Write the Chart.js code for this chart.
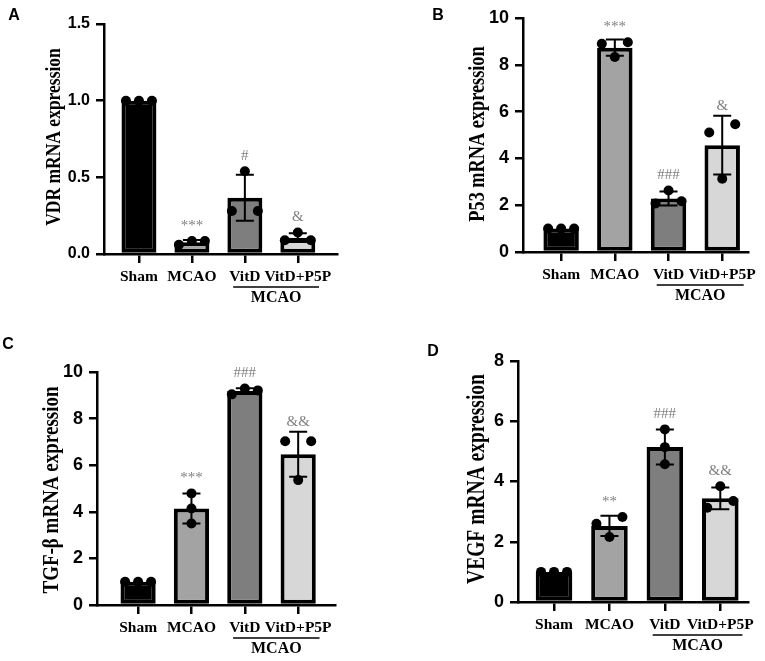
<!DOCTYPE html>
<html>
<head>
<meta charset="utf-8">
<script src="https://cdn.jsdelivr.net/npm/chart.js@4.4.1/dist/chart.umd.min.js"></script>
<style>
body { margin: 0; background: #fff; }
#wrap { position: relative; width: 765px; height: 661px; }
canvas { position: absolute; left: 0; top: 0; }
</style>
</head>
<body>
<div id="wrap">
  <canvas id="panelA" width="765" height="661"></canvas>
  <canvas id="panelB" width="765" height="661"></canvas>
  <canvas id="panelC" width="765" height="661"></canvas>
  <canvas id="panelD" width="765" height="661"></canvas>
</div>
<script>
// groups + bar fills
const groups = ['Sham', 'MCAO', 'VitD', 'VitD+P5P']
const barColors = ['#000000', '#a3a3a3', '#7e7e7e', '#d7d7d7']

// replicates (3 animals per group)
const vdrSham = [1.0, 1.0, 1.0]
const vdrMcao = [0.06, 0.085, 0.085]
const vdrVitd = [0.28, 0.54, 0.28]
const vdrP5p = [0.09, 0.14, 0.09]
const vdrMarks = ['', '***', '#', '&']

const p53Sham = [1.0, 1.0, 1.0]
const p53Mcao = [8.9, 8.96, 8.33]
const p53Vitd = [2.07, 2.63, 2.17]
const p53P5p = [5.11, 5.46, 3.13]
const p53Marks = ['', '***', '###', '&']

const tgfSham = [1.0, 1.0, 1.0]
const tgfMcao = [4.79, 4.14, 3.5]
const tgfVitd = [9.04, 9.29, 9.21]
const tgfP5p = [7.03, 5.36, 7.03]
const tgfMarks = ['', '***', '###', '&&']

const vegfSham = [1.0, 1.0, 1.0]
const vegfMcao = [2.6, 2.82, 2.16]
const vegfVitd = [5.73, 5.14, 4.57]
const vegfP5p = [3.84, 3.13, 3.35]
const vegfMarks = ['', '**', '###', '&&']

Chart.defaults.font.family = '"Liberation Sans", Arial, sans-serif'

const mean = (a) => a.reduce((s, v) => s + v, 0) / a.length
const sd = (a) => {
    const m = mean(a)
    return Math.sqrt(a.reduce((s, v) => s + (v - m) * (v - m), 0) / (a.length - 1))
}

// error bars, dots, significance marks, MCAO bracket, titles
const extras = {
    id: 'extras',
    afterDatasetsDraw(chart) {
        const o = chart.options.plugins.extras
        const ctx = chart.ctx
        const xs = chart.scales.x
        const ys = chart.scales.y
        const slot = xs.getPixelForValue(1) - xs.getPixelForValue(0)
        ctx.save()
        o.values.forEach((vals, i) => {
            const cx = xs.getPixelForValue(i)
            const m = mean(vals)
            const s = sd(vals)
            let top = ys.getPixelForValue(m)
            if (s > 0) {
                const yHi = ys.getPixelForValue(m + s)
                const yLo = ys.getPixelForValue(m - s)
                ctx.strokeStyle = '#000'
                ctx.lineWidth = 2
                ctx.beginPath()
                ctx.moveTo(cx, yHi); ctx.lineTo(cx, yLo)
                ctx.moveTo(cx - 9, yHi); ctx.lineTo(cx + 9, yHi)
                ctx.moveTo(cx - 9, yLo); ctx.lineTo(cx + 9, yLo)
                ctx.stroke()
                top = Math.min(top, yHi)
            }
            // simple row spreading for dots that sit close together
            const pts = vals.map((v, k) => ({ k: k, py: ys.getPixelForValue(v) }))
            const sorted = pts.slice().sort((a, b) => a.py - b.py)
            const rows = []
            sorted.forEach((pt) => {
                const last = rows[rows.length - 1]
                if (last && pt.py - last[last.length - 1].py < 12) last.push(pt)
                else rows.push([pt])
            })
            ctx.fillStyle = '#000'
            rows.forEach((row) => {
                row.sort((a, b) => a.k - b.k)
                const gap = row.length === 2 ? 26 : 13
                row.forEach((pt, j) => {
                    const dx = (j - (row.length - 1) / 2) * gap
                    ctx.beginPath()
                    ctx.arc(cx + dx, pt.py, 5, 0, Math.PI * 2)
                    ctx.fill()
                    top = Math.min(top, pt.py - 5)
                })
            })
            if (o.marks[i]) {
                ctx.fillStyle = '#808080'
                ctx.font = '15px "Liberation Serif", serif'
                ctx.textAlign = 'center'
                ctx.textBaseline = 'middle'
                ctx.fillText(o.marks[i], cx, top - 10)
            }
        })
        // MCAO bracket under the two treated groups
        const base = chart.chartArea.bottom
        const x1 = xs.getPixelForValue(2) - 0.22 * slot
        const x2 = xs.getPixelForValue(3) + 0.4 * slot
        ctx.strokeStyle = '#000'
        ctx.lineWidth = 1.5
        ctx.beginPath()
        ctx.moveTo(x1, base + 33)
        ctx.lineTo(x2, base + 33)
        ctx.stroke()
        ctx.fillStyle = '#000'
        ctx.font = 'bold 16px "Liberation Serif", serif'
        ctx.textAlign = 'center'
        ctx.textBaseline = 'middle'
        ctx.fillText('MCAO', (x1 + x2) / 2, base + 44)
        // y title, glyphs a bit wider than the font like in the figure
        ctx.save()
        ctx.translate(o.titleX, o.titleY)
        ctx.scale(1.25, 1)
        ctx.rotate(-Math.PI / 2)
        ctx.font = 'bold ' + o.titleSize + 'px "Liberation Serif", serif'
        ctx.fillText(o.title, 0, 0)
        ctx.restore()
        // panel letter
        ctx.font = 'bold 16px "Liberation Sans", Arial, sans-serif'
        ctx.fillText(o.letter, o.letterX, o.letterY)
        ctx.restore()
    }
}

const makePanel = (id, cfg) => {
    const canvas = document.querySelector('canvas#' + id)
    return new Chart(canvas, {
        type: 'bar',
        data: {
            datasets: [{
                data: cfg.values.map((v, i) => ({ x: i, y: mean(v) })),
                backgroundColor: barColors,
                borderColor: '#000',
                borderWidth: 4,
                borderSkipped: false,
                categoryPercentage: 1,
                barPercentage: 0.66
            }]
        },
        options: {
            responsive: false,
            animation: false,
            events: [],
            layout: { padding: cfg.padding },
            plugins: {
                legend: { display: false },
                tooltip: { enabled: false },
                extras: {
                    values: cfg.values,
                    marks: cfg.marks,
                    title: cfg.title,
                    titleSize: cfg.titleSize,
                    titleX: cfg.titleX,
                    titleY: cfg.titleY,
                    letter: cfg.letter,
                    letterX: cfg.letterX,
                    letterY: cfg.letterY
                }
            },
            scales: {
                x: {
                    type: 'linear',
                    offset: false,
                    min: cfg.xMin,
                    max: cfg.xMax,
                    afterBuildTicks: (scale) => {
                        scale.ticks = groups.map((g, i) => ({ value: i }))
                    },
                    afterFit: (scale) => { scale.height = 50 },
                    border: { display: true, color: '#000', width: 2.5 },
                    grid: { display: true, offset: false, drawOnChartArea: false, drawTicks: true, tickLength: 9, color: '#000', lineWidth: 2.5 },
                    ticks: {
                        autoSkip: false,
                        maxRotation: 0,
                        minRotation: 0,
                        padding: 5,
                        color: '#000',
                        font: { family: '"Liberation Serif", serif', size: 15.5, weight: 'bold' },
                        callback: (v) => groups[v]
                    }
                },
                y: {
                    min: 0,
                    max: cfg.yMax,
                    afterFit: (scale) => { scale.width = 60 },
                    border: { display: true, color: '#000', width: 2.5 },
                    grid: { display: true, drawOnChartArea: false, drawTicks: true, tickLength: 8, color: '#000', lineWidth: 2.5 },
                    ticks: {
                        stepSize: cfg.yStep,
                        padding: 6,
                        color: '#000',
                        font: { size: cfg.tickSize, weight: 'bold' },
                        callback: (v) => cfg.yStep < 1 ? v.toFixed(1) : v
                    }
                }
            }
        },
        plugins: [extras]
    })
}

makePanel('panelA', {
    values: [vdrSham, vdrMcao, vdrVitd, vdrP5p],
    marks: vdrMarks,
    title: 'VDR mRNA expression',
    titleSize: 17.5, titleX: 54, titleY: 137,
    letter: 'A', letterX: 14, letterY: 16,
    yMax: 1.5, yStep: 0.5, tickSize: 16,
    xMin: -0.66, xMax: 3.74,
    padding: { left: 44, right: 428, top: 24, bottom: 357 }
})

makePanel('panelB', {
    values: [p53Sham, p53Mcao, p53Vitd, p53P5p],
    marks: p53Marks,
    title: 'P53 mRNA expression',
    titleSize: 18.3, titleX: 478, titleY: 134,
    letter: 'B', letterX: 438, letterY: 16,
    yMax: 10, yStep: 2, tickSize: 18,
    xMin: -0.71, xMax: 3.48,
    padding: { left: 463, right: 17, top: 18, bottom: 359 }
})

makePanel('panelC', {
    values: [tgfSham, tgfMcao, tgfVitd, tgfP5p],
    marks: tgfMarks,
    title: 'TGF-β mRNA expression',
    titleSize: 19, titleX: 52, titleY: 490,
    letter: 'C', letterX: 8, letterY: 345,
    yMax: 10, yStep: 2, tickSize: 18,
    xMin: -0.77, xMax: 3.69,
    padding: { left: 37, right: 430, top: 372, bottom: 6 }
})

makePanel('panelD', {
    values: [vegfSham, vegfMcao, vegfVitd, vegfP5p],
    marks: vegfMarks,
    title: 'VEGF mRNA expression',
    titleSize: 19.5, titleX: 478, titleY: 479,
    letter: 'D', letterX: 433, letterY: 352,
    yMax: 8, yStep: 2, tickSize: 18,
    xMin: -0.65, xMax: 3.5,
    padding: { left: 458, right: 17, top: 361, bottom: 9 }
})
</script>
</body>
</html>
